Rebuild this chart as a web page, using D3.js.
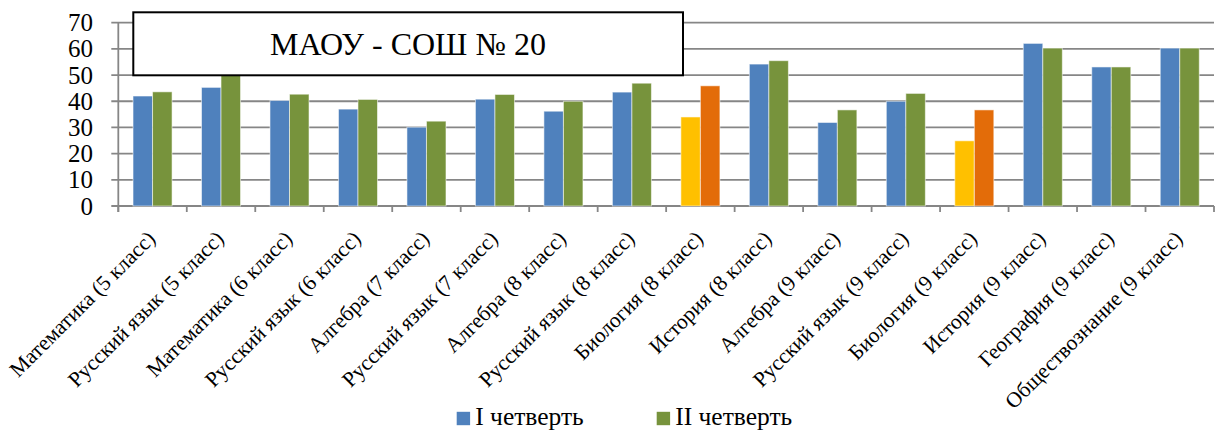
<!DOCTYPE html>
<html><head><meta charset="utf-8">
<script src="https://cdn.jsdelivr.net/npm/d3@7"></script>
<style>html,body{margin:0;padding:0;background:#fff;}svg{display:block;}
svg text{font-family:"Liberation Serif","Times New Roman",serif;fill:#000;}</style>
</head><body>
<svg id="c" width="1215" height="432"></svg>
<script>
const categories = ["Математика (5 класс)","Русский язык (5 класс)","Математика (6 класс)","Русский язык (6 класс)","Алгебра (7 класс)","Русский язык (7 класс)","Алгебра (8 класс)","Русский язык (8 класс)","Биология (8 класс)","История (8 класс)","Алгебра (9 класс)","Русский язык (9 класс)","Биология (9 класс)","История (9 класс)","География (9 класс)","Обществознание (9 класс)"];
const q1 = [42, 45.3, 40.3, 37, 30.1, 40.8, 36.2, 43.5, 34, 54.2, 31.9, 40, 24.9, 62.1, 53.1, 60.3];
const q2 = [43.6, 51, 42.7, 40.7, 32.4, 42.6, 40, 46.9, 45.9, 55.5, 36.7, 43, 36.7, 60.3, 53.1, 60.3];
const seriesNames = ["I четверть", "II четверть"];
const highlighted = ["Биология (8 класс)", "Биология (9 класс)"];
const yTicks = [0, 10, 20, 30, 40, 50, 60, 70];
const titleText = "МАОУ - СОШ № 20";

const svg = d3.select("#c");
const L = 118.3, R = 1214, T = 22.7, B = 206;
const x = d3.scaleBand().domain(categories).range([L, R]).paddingInner(0.43).paddingOuter(0.215);
const xc = d3.scaleBand().domain(categories).range([L, R]);
const y = d3.scaleLinear().domain([0, 70]).range([B, T]);
const xs = d3.scaleBand().domain(seriesNames).range([0, x.bandwidth()]);
const baseColors = ["#4F81BD", "#77933C"];
const hiColors = ["#FFC000", "#E36C09"];
const grid = "#868686";

svg.append("g").selectAll("line").data(yTicks).join("line")
  .attr("x1", L - 7).attr("x2", R).attr("y1", d => y(d)).attr("y2", d => y(d))
  .attr("stroke", grid).attr("stroke-width", 1.8);
svg.append("line").attr("x1", L).attr("x2", L).attr("y1", T).attr("y2", B + 6)
  .attr("stroke", grid).attr("stroke-width", 1.8);
const bounds = categories.map(c => xc(c)).concat([R]);
svg.append("g").selectAll("line").data(bounds).join("line")
  .attr("x1", d => d).attr("x2", d => d).attr("y1", B).attr("y2", B + 6)
  .attr("stroke", grid).attr("stroke-width", 1.8);

const series = [q1, q2];
series.forEach((vals, si) => {
  svg.append("g").selectAll("rect").data(categories).join("rect")
    .attr("x", c => x(c) + xs(seriesNames[si]))
    .attr("width", xs.bandwidth())
    .attr("y", (c, i) => y(vals[i]))
    .attr("height", (c, i) => B - y(vals[i]))
    .attr("fill", c => highlighted.includes(c) ? hiColors[si] : baseColors[si])
    .attr("stroke", "rgba(255,255,255,0.55)").attr("stroke-width", 1);
});

svg.append("g").selectAll("text").data(yTicks).join("text")
  .attr("x", 93).attr("y", d => y(d)).attr("dy", "0.34em")
  .attr("text-anchor", "end").style("font-size", "25px")
  .text(d => d);

svg.append("g").selectAll("text").data(categories).join("text")
  .attr("transform", c => `translate(${xc(c) + xc.bandwidth() / 2 + 4},${B + 34}) rotate(-45)`)
  .attr("text-anchor", "end").style("font-size", "21.5px")
  .text(c => c);

svg.append("rect").attr("x", 133.3).attr("y", 12.3).attr("width", 549.7).attr("height", 63)
  .attr("fill", "#fff").attr("stroke", "#000").attr("stroke-width", 2);
svg.append("text").attr("x", 408).attr("y", 44).attr("dy", "0.35em")
  .attr("text-anchor", "middle").style("font-size", "32px")
  .text(titleText);

const legX = [456.7, 656.7];
seriesNames.forEach((n, i) => {
  svg.append("rect").attr("x", legX[i]).attr("y", 411.8).attr("width", 13.4).attr("height", 13.4)
    .attr("fill", baseColors[i]);
  svg.append("text").attr("x", legX[i] + 18.5).attr("y", 425)
    .style("font-size", "25.5px").text(n);
});
</script>
</body></html>
